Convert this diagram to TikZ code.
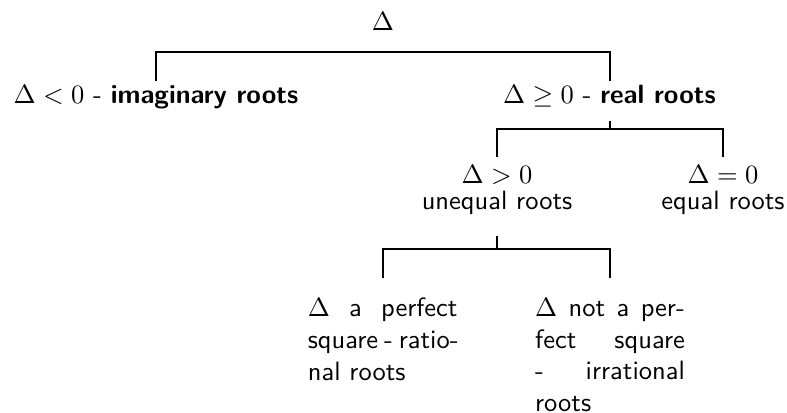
\documentclass[tikz,border=0pt]{standalone}
\usetikzlibrary{calc}
\setlength{\parindent}{0pt}
\newcommand{\jline}[1]{\makebox[56.5pt][s]{#1}}
\begin{document}
\begin{tikzpicture}[x=0.3774pt,y=-0.3774pt, font=\sffamily,
  tree/.style={line width=0.75pt},
  rootnode/.style={inner sep=0pt, anchor=base},
  lvl/.style={inner xsep=0pt, inner ysep=1.25pt, text height=6.94pt, text depth=5.3pt, anchor=base},
  mid/.style={inner xsep=0pt, inner ysep=2.9pt, align=center, anchor=north},
  leaf/.style={inner xsep=0pt, inner ysep=7.3pt, align=left, anchor=north}]
\useasboundingbox (0,0) rectangle (787,412);
% level 0
\node[rootnode] (root) at (383,30) {$\Delta$};
% level 1
\node[lvl] (neg) at (156,103.3) {$\Delta<0$ - \textbf{imaginary roots}};
\node[lvl] (real) at (609.5,103.3) {$\Delta\geq0$ - \textbf{real roots}};
\coordinate (bar1) at (0,51.7);
\draw[tree] (neg.north) |- (bar1 -| real.north) -- (real.north);
% level 2
\node[mid] (gt) at (497,157) {$\Delta>0$\\[-2pt]unequal roots};
\node[mid] (eq) at (723,157) {$\Delta=0$\\[-2pt]equal roots};
\coordinate (bar2) at (0,128.5);
\draw[tree] (real.south) -- (real.south |- bar2);
\draw[tree] (gt.north) |- (bar2 -| eq.north) -- (eq.north);
% level 3
\node[leaf] (rat) at (382.7,278.3) {\jline{$\Delta$ a perfect}\\\jline{square - ratio-}\\nal roots};
\node[leaf] (irr) at (610,278.3) {\jline{$\Delta$ not a per-}\\\jline{fect square}\\\jline{- irrational}\\roots};
\coordinate (bar3) at (0,248.5);
\draw[tree] ([yshift=-4.9pt]gt.south) -- (gt.south |- bar3);
\draw[tree] (rat.north) |- (bar3 -| irr.north) -- (irr.north);
\end{tikzpicture}
\end{document}
